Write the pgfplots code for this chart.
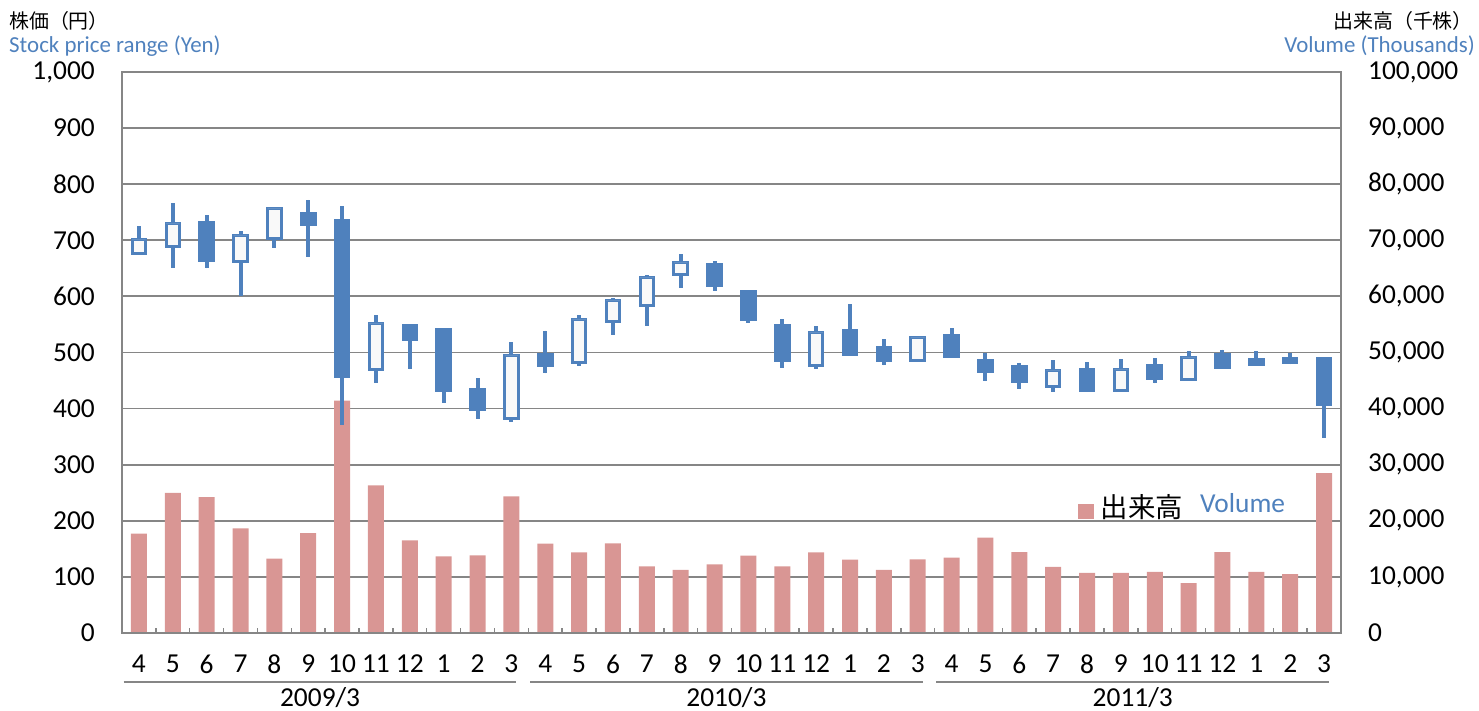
\documentclass[border=0pt]{standalone}
\usepackage{fontspec}
\setmainfont{Carlito}
\newfontfamily\jp{Noto Sans CJK JP}
\usepackage{pgfplots}
\usepackage{pgfplotstable}
\pgfplotsset{compat=1.18}
\usepgfplotslibrary{statistics}
\definecolor{cblue}{HTML}{4F81BD}
\definecolor{vpink}{HTML}{D99694}
\definecolor{gridgray}{HTML}{868686}
\definecolor{hollow}{HTML}{F9F9F9}

% month low body-bottom body-top high up(1=hollow)
\pgfplotstableread{
m lo bot top hi up
1 676 676 701 726 1
2 650 689 730 767 1
3 650 664 732 745 0
4 601 662 708 717 1
5 686 703 757 757 1
6 670 729 748 772 0
7 371 457 736 761 0
8 446 469 552 566 1
9 470 524 549 549 0
10 410 432 541 542 0
11 382 398 434 454 0
12 376 383 494 518 1
13 463 477 496 539 0
14 476 482 559 566 1
15 531 555 593 598 1
16 547 583 634 638 1
17 615 639 660 675 1
18 610 619 657 663 0
19 553 559 608 611 0
20 473 486 549 559 0
21 471 477 536 547 1
22 496 496 540 586 0
23 477 485 509 524 0
24 486 486 526 529 1
25 492 492 530 543 0
26 449 467 485 499 0
27 435 448 475 482 0
28 429 440 468 486 1
29 432 432 470 483 0
30 433 433 470 488 1
31 445 454 476 490 0
32 451 451 491 503 1
33 474 474 496 505 0
34 476 479 488 503 0
35 479 482 490 499 0
36 348 408 490 490 0
}\candles

\pgfplotstableread{
m vol
1 17700
2 24960
3 24240
4 18660
5 13250
6 17820
7 41400
8 26320
9 16520
10 13670
11 13840
12 24360
13 15920
14 14380
15 15980
16 11880
17 11230
18 12240
19 13780
20 11880
21 14380
22 13070
23 11230
24 13130
25 13430
26 16990
27 14400
28 11800
29 10700
30 10700
31 10900
32 8900
33 14400
34 10900
35 10500
36 28500
}\volume

\pgfplotsset{
  upcandle/.style={draw=cblue, fill=hollow, line width=3bp,
    boxplot/box extend=0.4, boxplot/whisker extend=0,
    boxplot/every whisker/.style={line width=4bp},
    boxplot/every median/.style={draw=none}},
  downcandle/.style={draw=cblue, fill=cblue, line width=3bp,
    boxplot/box extend=0.4, boxplot/whisker extend=0,
    boxplot/every whisker/.style={line width=4bp},
    boxplot/every median/.style={draw=none}},
}

\begin{document}
\begin{tikzpicture}
\path[use as bounding box] (-122bp,-78bp) rectangle (1357bp,633bp);
% ---- volume (right axis) ----
\begin{axis}[
  scale only axis, width=1219bp, height=561bp,
  at={(0,0)}, anchor=south west,
  xmin=0.5, xmax=36.5, ymin=0, ymax=100000,
  xtick=\empty,
  ytick={0,10000,...,100000},
  ytick pos=right, yticklabel pos=right,
  ymajorgrids, grid style={gridgray, line width=1.8bp},
  axis line style={draw=none},
  major tick length=0pt,
  scaled y ticks=false,
  /pgf/number format/assume math mode=true,
  yticklabel style={anchor=west, inner sep=0pt, xshift=27bp,
    font=\fontsize{27.5}{32}\selectfont, /pgf/number format/fixed,
    /pgf/number format/precision=0, /pgf/number format/1000 sep={,}},
  legend style={at={(0.784,0.221)}, anchor=west, draw=none, fill=none,
    inner sep=0pt, font=\fontsize{27.5}{32}\selectfont,
    /tikz/every even column/.append style={column sep=9bp}},
]
\addplot[ybar, bar width=16bp, fill=vpink, draw=none,
  legend image code/.code={\fill[vpink] (0bp,-10bp) rectangle (16bp,5bp);}]
  table[x=m, y=vol]{\volume};
\addlegendentry{\hspace{5bp}\raisebox{5bp}{\jp 出来高}\hspace{17bp}\raisebox{10bp}{\textcolor{cblue}{Volume}}}
\end{axis}
% ---- stock price (left axis) ----
\begin{axis}[
  name=ax,
  scale only axis, width=1219bp, height=561bp,
  at={(0,0)}, anchor=south west,
  xmin=0.5, xmax=36.5, ymin=0, ymax=1000,
  axis line style={gridgray, line width=2.2bp},
  xtick={1,...,36},
  xticklabels={4,5,6,7,8,9,10,11,12,1,2,3,4,5,6,7,8,9,10,11,12,1,2,3,4,5,6,7,8,9,10,11,12,1,2,3},
  minor xtick={1.5,2.5,...,35.5},
  xtick pos=bottom, ytick pos=left,
  tick align=inside,
  major tick length=0pt, minor tick length=5bp,
  minor tick style={gridgray, line width=1.5bp},
  ytick={0,100,...,1000},
  /pgf/number format/assume math mode=true,
  xticklabel style={anchor=north, inner sep=0pt, yshift=-22bp,
    font=\fontsize{27.5}{32}\selectfont},
  yticklabel style={anchor=east, inner sep=0pt, xshift=-27bp,
    font=\fontsize{27.5}{32}\selectfont, /pgf/number format/fixed,
    /pgf/number format/precision=0, /pgf/number format/1000 sep={,}},
  clip=false,
  boxplot/draw direction=y,
]
\pgfplotsinvokeforeach{0,...,35}{
  \pgfplotstablegetelem{#1}{up}\of\candles
  \ifnum\pgfplotsretval=1 \def\cst{upcandle}\else\def\cst{downcandle}\fi
  \pgfplotstablegetelem{#1}{m}\of\candles \let\cpos\pgfplotsretval
  \pgfplotstablegetelem{#1}{lo}\of\candles \let\clo\pgfplotsretval
  \pgfplotstablegetelem{#1}{bot}\of\candles \let\cbot\pgfplotsretval
  \pgfplotstablegetelem{#1}{top}\of\candles \let\ctop\pgfplotsretval
  \pgfplotstablegetelem{#1}{hi}\of\candles \let\chigh\pgfplotsretval
  \edef\doit{\noexpand\addplot[\cst,
    boxplot prepared={draw position=\cpos,
      lower whisker=\clo, lower quartile=\cbot, median=\ctop,
      upper quartile=\ctop, upper whisker=\chigh}] coordinates {};}
  \doit
}
% period brackets
\draw[gridgray, line width=2.5bp]
  ([yshift=-49bp]axis cs:0.55,0) -- ([yshift=-49bp]axis cs:12.15,0);
\draw[gridgray, line width=2.5bp]
  ([yshift=-49bp]axis cs:12.55,0) -- ([yshift=-49bp]axis cs:24.15,0);
\draw[gridgray, line width=2.5bp]
  ([yshift=-49bp]axis cs:24.55,0) -- ([yshift=-49bp]axis cs:36.15,0);
\node[font=\fontsize{27.5}{32}\selectfont, inner sep=0pt, anchor=base]
  at ([yshift=-73bp]axis cs:6.35,0) {2009/3};
\node[font=\fontsize{27.5}{32}\selectfont, inner sep=0pt, anchor=base]
  at ([yshift=-73bp]axis cs:18.35,0) {2010/3};
\node[font=\fontsize{27.5}{32}\selectfont, inner sep=0pt, anchor=base]
  at ([yshift=-73bp]axis cs:30.35,0) {2011/3};
\end{axis}
% titles
\node[anchor=west, inner sep=0pt, font=\fontsize{20}{22}\selectfont\jp]
  at (-113bp,612bp) {株価（円）};
\node[anchor=base west, inner sep=0pt, font=\fontsize{23}{26}\selectfont, text=cblue]
  at (-113bp,580.5bp) {Stock price range (Yen)};
\node[anchor=east, inner sep=0pt, font=\fontsize{20}{22}\selectfont\jp]
  at (1351bp,612bp) {出来高（千株）};
\node[anchor=base east, inner sep=0pt, font=\fontsize{23}{26}\selectfont, text=cblue]
  at (1353bp,580.5bp) {Volume (Thousands)};
\end{tikzpicture}
\end{document}
